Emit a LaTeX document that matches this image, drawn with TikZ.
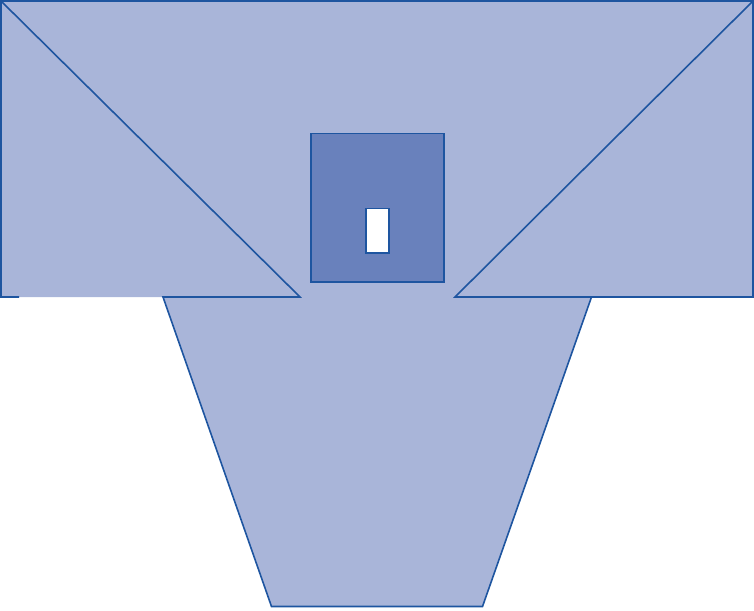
\documentclass[tikz,border=0pt]{standalone}
\definecolor{lightfill}{RGB}{169,181,217}
\definecolor{darkfill}{RGB}{105,129,188}
\definecolor{edge}{RGB}{30,85,160}
\begin{document}
\begin{tikzpicture}[x=1pt,y=-1pt,
  outline/.style={draw=edge,line width=1.6pt,line join=miter}]
\useasboundingbox (0,0) rectangle (754,610);
% main filled shape
\fill[lightfill] (1,1) -- (753,1) -- (753,297) -- (591.5,297) -- (482.5,606.5) -- (271.5,606.5) -- (163,297) -- (1,297) -- cycle;
% outline strokes
\draw[outline] (19,297) -- (1,297) -- (1,1) -- (753,1) -- (753,297) -- (455,297) -- (753,1);
\draw[outline] (1,1) -- (300,297) -- (163,297) -- (271.5,606.5) -- (482.5,606.5) -- (591.5,297);
% dark square
\draw[outline,fill=darkfill,line width=1.2pt] (311,133.5) rectangle (444,282);
% white window
\draw[outline,fill=white,line width=1.2pt] (366,208.5) rectangle (389,253);
\end{tikzpicture}
\end{document}
